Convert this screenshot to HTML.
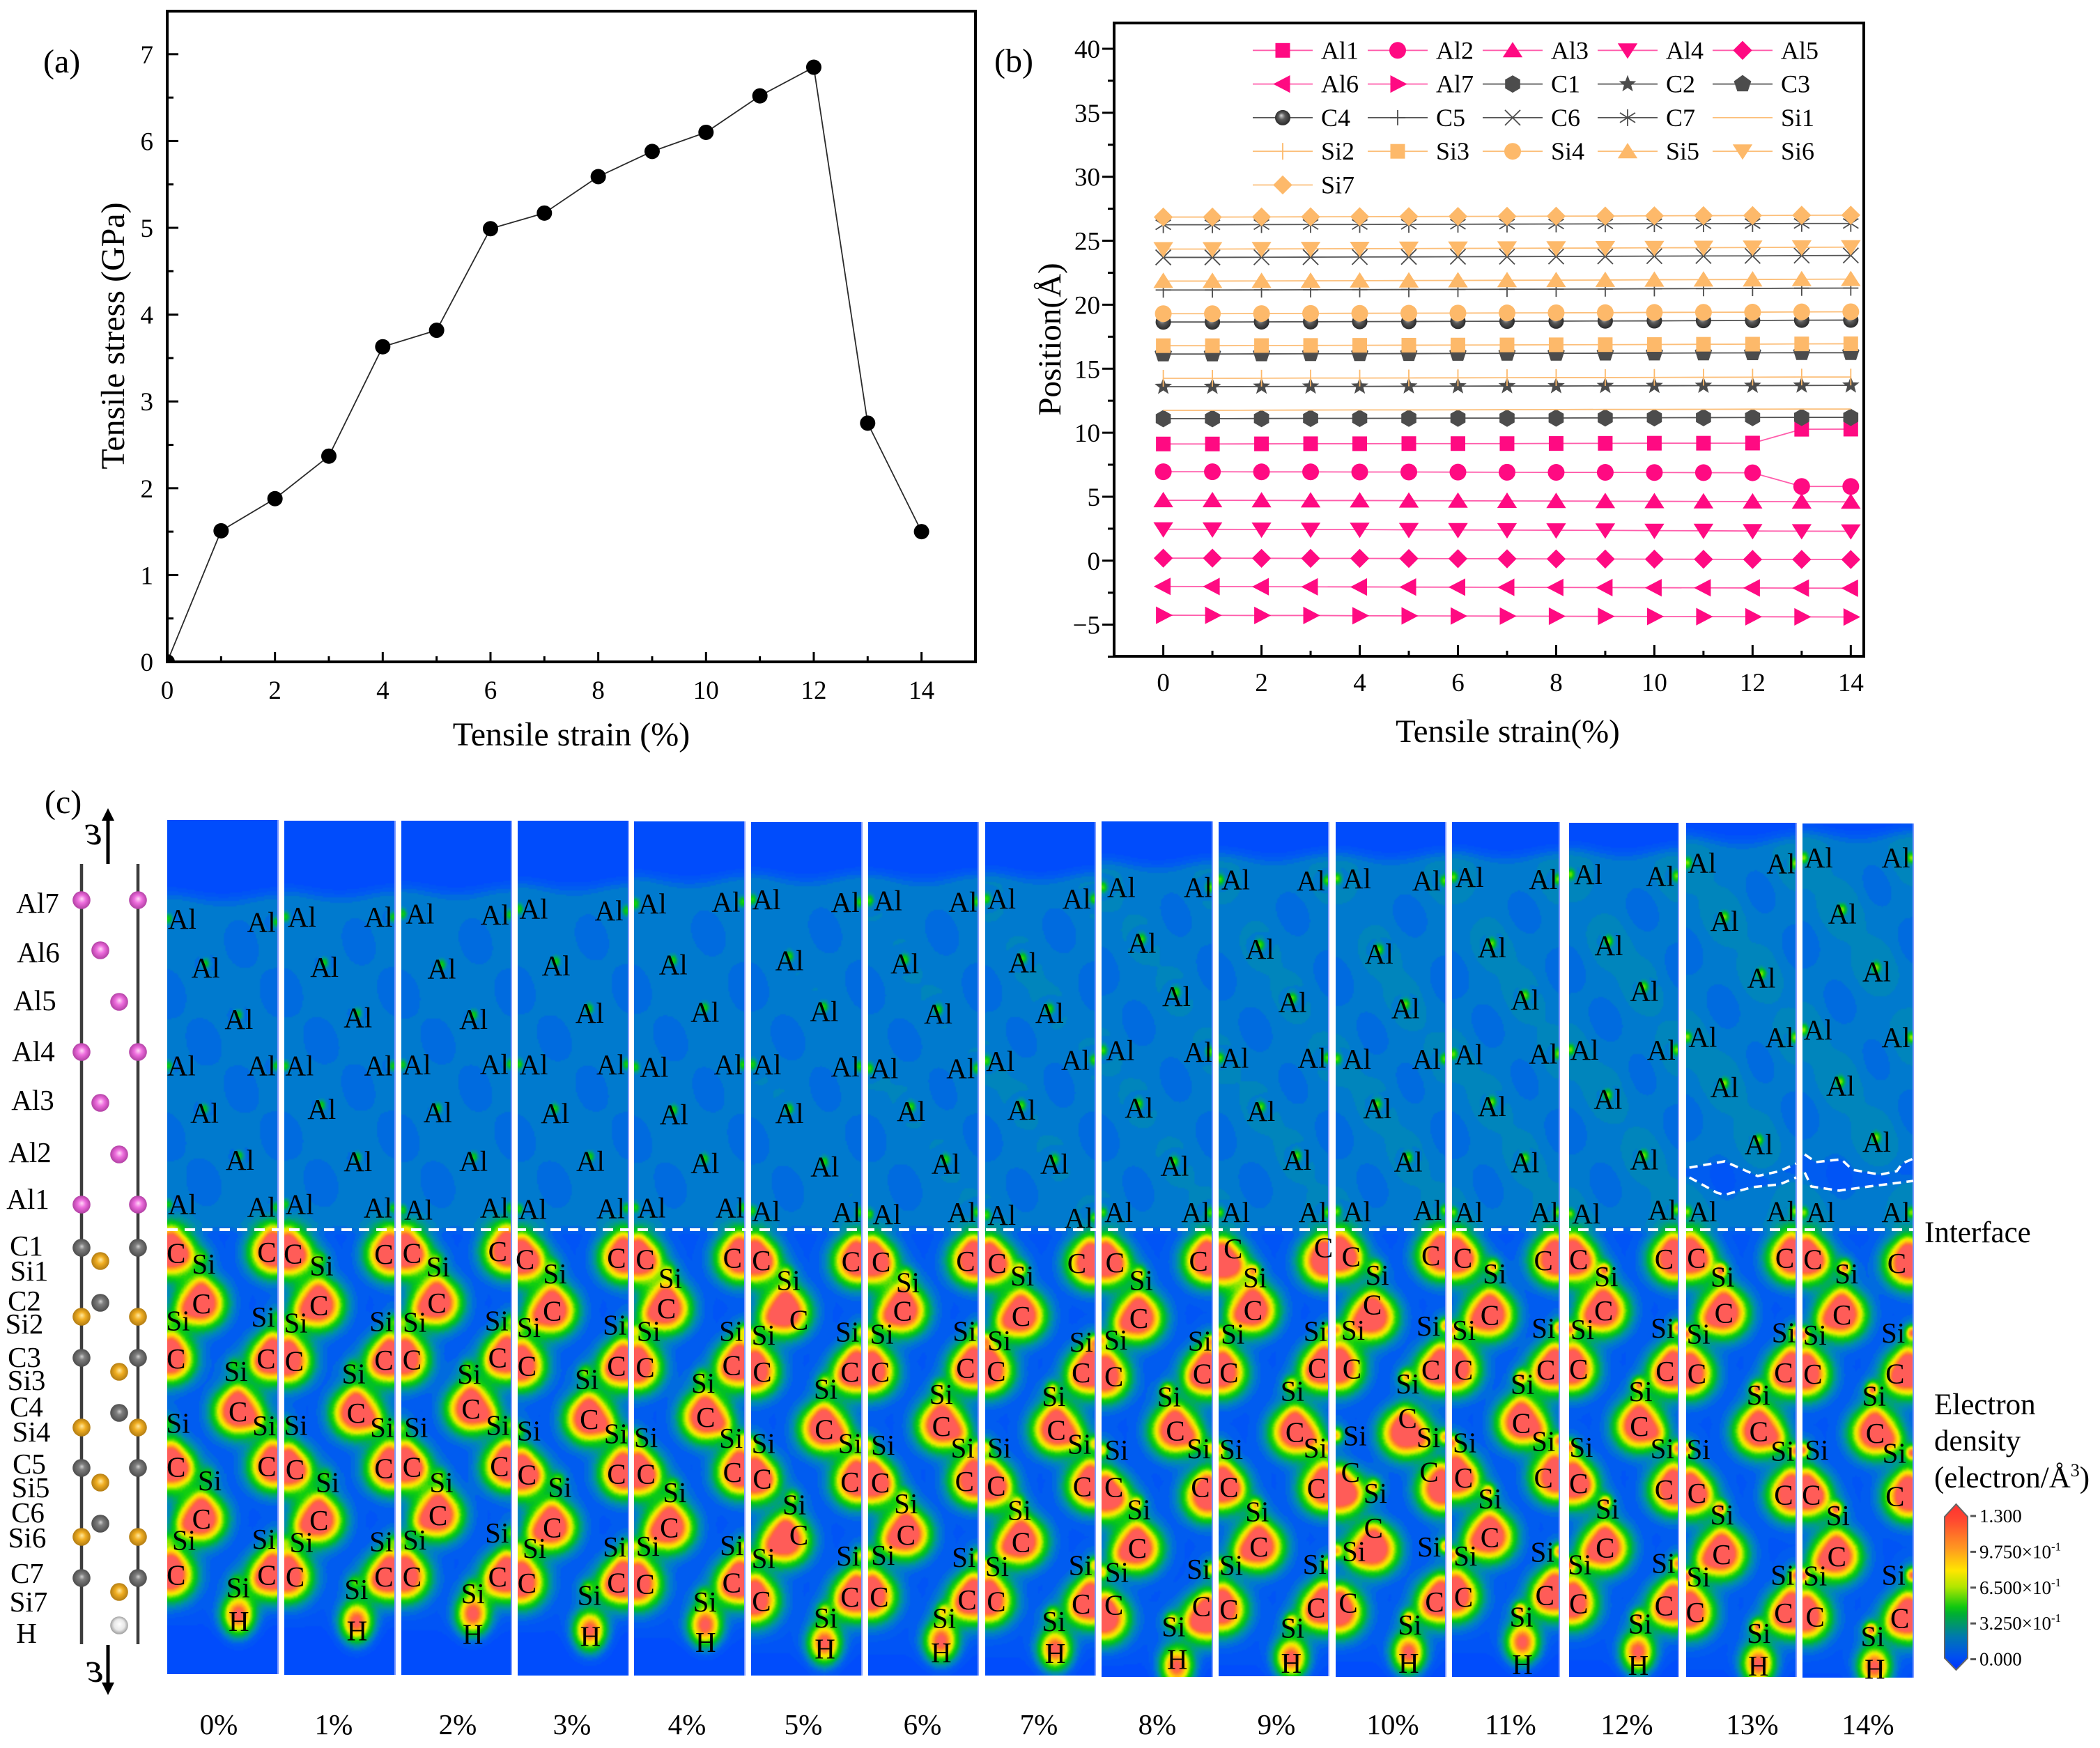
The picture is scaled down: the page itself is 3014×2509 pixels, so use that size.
<!DOCTYPE html>
<html lang="en">
<head>
<meta charset="utf-8">
<title>Tensile stress, atomic positions and electron density</title>
<style>
html,body{margin:0;padding:0;background:#fff}
#page{position:relative;width:3014px;height:2509px;overflow:hidden;background:#fff}
#maps canvas{position:absolute;display:block}
#fig{position:absolute;left:0;top:0}
text{font-family:"Liberation Serif","DejaVu Serif",serif;fill:#000}
</style>
</head>
<body>
<div id="page">
<div id="maps"></div>
<svg id="fig" xmlns="http://www.w3.org/2000/svg" width="3014" height="2509" viewBox="0 0 3014 2509">
<defs>
<radialGradient id="gMag" cx=".5" cy=".5" r=".55" fx=".52" fy=".42"><stop offset="0" stop-color="#ffd8f6"/><stop offset=".4" stop-color="#ee6ede"/><stop offset="1" stop-color="#a8389a"/></radialGradient>
<radialGradient id="gGray" cx=".5" cy=".5" r=".55" fx=".52" fy=".42"><stop offset="0" stop-color="#cfcfcf"/><stop offset=".3" stop-color="#808080"/><stop offset="1" stop-color="#464646"/></radialGradient>
<radialGradient id="gGold" cx=".5" cy=".5" r=".55" fx=".52" fy=".42"><stop offset="0" stop-color="#ffe9a0"/><stop offset=".4" stop-color="#f0ae22"/><stop offset="1" stop-color="#a87410"/></radialGradient>
<radialGradient id="gWhite" cx=".5" cy=".5" r=".55" fx=".52" fy=".42"><stop offset="0" stop-color="#ffffff"/><stop offset=".55" stop-color="#e8e8e8"/><stop offset="1" stop-color="#8c8c8c"/></radialGradient>
<radialGradient id="gBall" cx=".5" cy=".5" r=".55" fx=".4" fy=".35"><stop offset="0" stop-color="#d8d8d8"/><stop offset=".4" stop-color="#5c5c5c"/><stop offset="1" stop-color="#222"/></radialGradient>
<linearGradient id="gBar" gradientUnits="userSpaceOnUse" x1="0" y1="2159" x2="0" y2="2397">
<stop offset="0" stop-color="#ff3030"/><stop offset=".1" stop-color="#ff4a30"/><stop offset=".27" stop-color="#ff9a20"/><stop offset=".4" stop-color="#ffe600"/><stop offset=".5" stop-color="#b0e600"/><stop offset=".62" stop-color="#10c810"/><stop offset=".66" stop-color="#00b030"/><stop offset=".8" stop-color="#0078b0"/><stop offset=".92" stop-color="#0050f0"/><stop offset="1" stop-color="#0030ff"/>
</linearGradient>
<clipPath id="clipA"><rect x="240" y="16" width="1160" height="934"/></clipPath>
</defs>

<g id="panelA">
<text x="62" y="104" font-size="48">(a)</text>
<text x="820" y="1070" font-size="48" text-anchor="middle">Tensile strain (%)</text>
<text transform="translate(178,482) rotate(-90)" font-size="48" text-anchor="middle">Tensile stress (GPa)</text>
</g>
<g id="panelB">
<text x="1427" y="103" font-size="48">(b)</text>
<text x="2164" y="1065" font-size="47" text-anchor="middle">Tensile strain(%)</text>
<text transform="translate(1522,487) rotate(-90)" font-size="47" text-anchor="middle">Position(Å)</text>
</g>
<g id="panelC">
<text x="64" y="1167" font-size="48">(c)</text>
<line x1="155" y1="1240" x2="155" y2="1175" stroke="#000" stroke-width="5"/>
<polygon points="155,1160 146,1178 164,1178" fill="#000"/>
<text transform="translate(146,1212) scale(-1,1)" font-size="60" font-style="italic">ε</text>
<line x1="155" y1="2361" x2="155" y2="2418" stroke="#000" stroke-width="5"/>
<polygon points="155,2433 146,2415 164,2415" fill="#000"/>
<text transform="translate(148,2414) scale(-1,1)" font-size="60" font-style="italic">ε</text>
<line x1="117" y1="1240" x2="117" y2="2360" stroke="#3c3c3c" stroke-width="4.5"/>
<line x1="198" y1="1240" x2="198" y2="2360" stroke="#3c3c3c" stroke-width="4.5"/>
<text x="2762" y="1783" font-size="43">Interface</text>
<text x="2776" y="2030" font-size="43">Electron</text>
<text x="2776" y="2082" font-size="43">density</text>
<text x="2776" y="2135" font-size="43">(electron/Å<tspan font-size="26" dy="-16">3</tspan><tspan dy="16">)</tspan></text>
<polygon points="2807.5,2159 2824,2177 2824,2380 2807.5,2397 2791,2380 2791,2177" fill="url(#gBar)" stroke="#666" stroke-width="2"/>
</g>
</svg>
</div>
<script>
/* ---------- panel (a) data ---------- */
const strainA = [0,1,2,3,4,5,6,7,8,9,10,11,12,13,14];
const stressA = [0,1.51,1.88,2.37,3.63,3.82,4.99,5.17,5.59,5.88,6.10,6.52,6.85,2.75,1.50];
const xTicksA = [0,2,4,6,8,10,12,14];
const yTicksA = [0,1,2,3,4,5,6,7];

/* ---------- panel (b) data ---------- */
const strainB = [0,1,2,3,4,5,6,7,8,9,10,11,12,13,14];
const xTicksB = [0,2,4,6,8,10,12,14];
const yTicksB = [-5,0,5,10,15,20,25,30,35,40];
const posAl1 = [9.12,9.12,9.13,9.14,9.14,9.15,9.15,9.15,9.16,9.17,9.18,9.18,9.19,10.27,10.28];
const posAl2 = [6.95,6.95,6.94,6.94,6.93,6.93,6.92,6.91,6.90,6.90,6.89,6.88,6.87,5.80,5.80];
const posAl3 = [4.72,4.72,4.71,4.70,4.70,4.69,4.68,4.67,4.66,4.65,4.64,4.63,4.62,4.61,4.60];
const posAl4 = [2.46,2.45,2.44,2.43,2.43,2.41,2.40,2.39,2.38,2.37,2.35,2.34,2.32,2.31,2.30];
const posAl5 = [0.20,0.20,0.19,0.18,0.18,0.17,0.16,0.15,0.14,0.13,0.12,0.11,0.10,0.10,0.09];
const posAl6 = [-2.01,-2.02,-2.03,-2.04,-2.05,-2.06,-2.07,-2.08,-2.09,-2.10,-2.11,-2.12,-2.13,-2.14,-2.15];
const posAl7 = [-4.26,-4.27,-4.28,-4.28,-4.30,-4.31,-4.32,-4.33,-4.34,-4.35,-4.36,-4.37,-4.38,-4.39,-4.40];
const posC1 = [11.10,11.10,11.11,11.12,11.12,11.13,11.14,11.14,11.15,11.16,11.17,11.18,11.19,11.20,11.20];
const posC2 = [13.60,13.60,13.61,13.62,13.62,13.63,13.64,13.65,13.65,13.66,13.67,13.68,13.68,13.69,13.70];
const posC3 = [16.15,16.15,16.16,16.17,16.17,16.18,16.19,16.20,16.20,16.21,16.22,16.23,16.24,16.25,16.25];
const posC4 = [18.65,18.65,18.66,18.67,18.68,18.69,18.70,18.71,18.72,18.73,18.74,18.76,18.77,18.79,18.80];
const posC5 = [21.15,21.15,21.16,21.17,21.18,21.19,21.20,21.21,21.22,21.23,21.25,21.26,21.27,21.29,21.30];
const posC6 = [23.70,23.70,23.71,23.72,23.73,23.74,23.75,23.76,23.77,23.78,23.80,23.81,23.82,23.84,23.85];
const posC7 = [26.25,26.25,26.26,26.27,26.27,26.28,26.29,26.30,26.31,26.32,26.33,26.33,26.34,26.35,26.35];
const posSi1 = [11.75,11.75,11.76,11.77,11.78,11.78,11.79,11.80,11.81,11.82,11.82,11.83,11.84,11.85,11.85];
const posSi2 = [14.25,14.25,14.26,14.27,14.27,14.28,14.29,14.30,14.31,14.31,14.32,14.33,14.34,14.35,14.35];
const posSi3 = [16.80,16.80,16.81,16.82,16.83,16.84,16.85,16.86,16.87,16.88,16.89,16.91,16.92,16.94,16.95];
const posSi4 = [19.30,19.30,19.31,19.32,19.33,19.34,19.35,19.36,19.37,19.38,19.40,19.41,19.42,19.44,19.45];
const posSi5 = [21.85,21.85,21.86,21.87,21.88,21.89,21.90,21.91,21.92,21.93,21.95,21.96,21.97,21.99,22.00];
const posSi6 = [24.35,24.35,24.36,24.37,24.38,24.39,24.40,24.41,24.42,24.43,24.45,24.46,24.47,24.49,24.50];
const posSi7 = [26.85,26.85,26.86,26.87,26.88,26.89,26.90,26.91,26.92,26.93,26.95,26.96,26.97,26.99,27.00];
const seriesNames = ['Al1','Al2','Al3','Al4','Al5','Al6','Al7','C1','C2','C3','C4','C5','C6','C7','Si1','Si2','Si3','Si4','Si5','Si6','Si7'];
const seriesValues = [posAl1,posAl2,posAl3,posAl4,posAl5,posAl6,posAl7,posC1,posC2,posC3,posC4,posC5,posC6,posC7,posSi1,posSi2,posSi3,posSi4,posSi5,posSi6,posSi7];
const seriesShapes = ['square','circle','up','down','diamond','left','right','hex','star','pent','ball','plus','cross','aster','bar','vbar','square','circle','up','down','diamond'];

/* ---------- panel (c) data ---------- */
const strainLabels = ['0%','1%','2%','3%','4%','5%','6%','7%','8%','9%','10%','11%','12%','13%','14%'];
/* Al layer order: Al7L Al7R Al6 Al5 Al4L Al4R Al3 Al2 Al1L Al1R - depth along the map */
const alDepth = [
[389,401,572,765,940,940,1117,1293,1459,1470],
[382,382,569,759,940,940,1103,1299,1459,1473],
[370,374,576,765,936,934,1115,1298,1480,1473],
[352,358,565,742,935,935,1118,1297,1478,1475],
[332,325,560,738,945,935,1122,1305,1472,1472],
[316,326,545,735,935,943,1118,1318,1485,1490],
[320,325,557,745,950,950,1110,1308,1497,1490],
[314,314,552,742,922,918,1105,1308,1500,1510],
[270,270,480,680,882,888,1098,1315,1490,1490],
[242,245,502,702,910,910,1110,1293,1490,1490],
[238,245,520,725,915,915,1100,1300,1487,1482],
[232,240,497,692,897,895,1092,1303,1490,1490],
[222,228,488,660,880,880,1065,1292,1495,1480],
[179,181,397,610,832,834,1021,1234,1487,1485],
[160,160,370,587,805,834,1015,1225,1490,1490]];
const alLateral = [
[.135,.85,.347,.647,.128,.85,.337,.657,.135,.85],
[.16,.85,.363,.665,.138,.85,.338,.665,.138,.845],
[.17,.85,.367,.656,.14,.844,.331,.656,.156,.844],
[.145,.825,.347,.65,.145,.84,.337,.657,.135,.84],
[.165,.83,.354,.64,.182,.85,.36,.64,.158,.865],
[.138,.85,.347,.66,.145,.85,.347,.665,.135,.86],
[.18,.86,.333,.637,.145,.84,.39,.705,.17,.85],
[.15,.83,.34,.585,.137,.82,.33,.63,.15,.85],
[.179,.87,.365,.676,.169,.87,.338,.66,.155,.848],
[.155,.838,.375,.672,.145,.848,.385,.713,.155,.855],
[.193,.824,.395,.635,.193,.824,.378,.659,.193,.834],
[.163,.85,.372,.68,.156,.85,.372,.68,.156,.86],
[.175,.832,.363,.688,.14,.843,.356,.688,.158,.85],
[.145,.86,.349,.684,.151,.849,.349,.66,.151,.859],
[.147,.843,.36,.67,.14,.843,.343,.67,.163,.843]];
/* Substrate order: C1L C1R Si1 C2 Si2L Si2R C3L C3R Si3 C4 Si4L Si4R C5L C5R Si5 C6 Si6L Si6R C7L C7R Si7 H */
const subElements = ['C','C','Si','C','Si','Si','C','C','Si','C','Si','Si','C','C','Si','C','Si','Si','C','C','Si','H'];
const subDepth = [
[113,110,150,283,340,328,468,468,510,646,685,693,832,830,878,1006,1078,1074,1195,1195,1237,1350],
[116,117,156,289,348,343,476,473,518,651,691,699,840,836,883,1011,1085,1082,1201,1201,1242,1382],
[113,108,159,281,345,340,472,464,519,637,699,691,832,830,883,994,1076,1053,1201,1201,1257,1393],
[135,130,183,308,363,355,493,493,537,672,710,720,858,855,900,1035,1105,1100,1222,1220,1262,1400],
[135,130,198,300,375,375,497,490,550,665,732,735,855,850,917,1035,1098,1095,1225,1220,1285,1420],
[138,142,205,338,388,378,512,512,570,705,752,752,872,882,958,1060,1138,1130,1282,1268,1338,1443],
[143,140,212,308,385,375,513,500,587,695,758,768,885,880,955,1060,1128,1135,1268,1278,1340,1456],
[147,148,190,325,407,412,510,515,594,708,767,755,895,897,977,1085,1165,1162,1283,1292,1350,1458],
[145,140,205,332,405,408,528,518,595,710,775,770,900,900,975,1105,1185,1175,1295,1300,1368,1478],
[98,95,195,305,385,375,515,500,577,715,772,768,900,903,982,1100,1162,1158,1310,1305,1372,1490],
[125,122,187,287,372,358,502,505,552,668,727,733,850,848,920,1037,1115,1100,1288,1285,1362,1490],
[130,138,182,322,372,365,505,505,553,685,750,745,868,868,938,1068,1130,1117,1268,1262,1335,1495],
[135,133,192,307,370,365,503,510,578,695,765,770,887,908,972,1103,1160,1155,1290,1297,1358,1498],
[130,130,193,315,385,380,518,515,590,712,772,778,920,925,992,1125,1200,1195,1320,1322,1390,1500],
[135,148,183,320,388,382,520,518,593,718,775,785,925,930,995,1132,1197,1195,1335,1340,1400,1510]];
const subLateral = [
[24,267,98,92,29,257,24,265,184,190,29,260,24,267,114,92,45,259,24,267,190,192],
[24,267,100,93,31,260,27,267,186,193,31,262,29,267,116,93,46,260,29,267,193,195],
[29,260,99,96,36,257,29,260,183,188,40,260,29,265,108,99,36,258,29,260,193,193],
[20,265,100,93,30,260,25,265,185,192,30,263,25,265,113,93,45,260,25,265,192,195],
[30,264,97,87,39,260,30,262,185,192,32,260,32,264,109,95,37,262,30,262,190,192],
[28,268,100,128,33,258,30,265,200,196,33,265,30,265,116,128,33,260,28,265,200,198],
[35,263,107,93,37,260,33,263,197,198,40,255,33,260,102,102,40,258,30,267,205,197],
[32,247,100,97,38,259,30,259,185,192,38,254,30,262,92,97,32,257,30,259,185,189],
[36,260,106,100,38,263,33,270,181,198,40,260,33,265,100,96,41,260,33,268,193,203],
[39,283,98,93,38,261,28,266,199,206,34,261,28,264,104,109,34,259,28,263,199,196],
[42,257,112,99,47,250,44,257,194,194,52,250,40,252,107,102,49,252,34,267,200,197],
[30,253,118,105,33,253,32,260,195,192,35,253,32,253,105,105,37,250,32,257,192,195],
[26,258,101,94,36,254,26,261,194,191,33,253,26,258,104,98,29,256,26,258,193,188],
[28,266,98,102,33,263,29,263,195,196,33,260,29,263,97,96,33,260,25,263,196,195],
[28,253,118,106,33,243,28,248,192,195,38,246,24,248,95,92,34,244,34,261,188,194]];
/* shift of the charge blob from its printed label, per strain: layer -> [lateral, depth] */
const blobShift = {
 5:{3:[-35,-25],15:[-35,20]},
 8:{12:[0,30],13:[0,30],18:[0,45],19:[0,40]},
 9:{0:[0,50],1:[0,45]},
 10:{3:[0,43],9:[-7,52],12:[0,70],13:[0,60],15:[0,73],18:[0,32]}
};
const hBlobShift = [-15,-23,-60,-10,-50,-10,-30,-5,30,-10,-25,-65,-38,0,0];
/* fracture outlines at 13% and 14% : lateral fraction, depth (map px below the 1170 top) */
const crackUpper = {13:[[0.03,506],[0.35,497],[0.65,518],[0.85,511],[1,500]],14:[[0.02,487],[0.12,498],[0.35,494],[0.45,509],[0.7,516],[0.85,511],[0.9,500],[1,493]]};
const crackLower = {13:[[0.03,520],[0.28,542],[0.35,545],[0.6,534],[0.85,530],[1,520]],14:[[0.02,513],[0.08,533],[0.33,539],[0.6,533],[1,525]]};
/* colour scale */
const cmapLevels = [0,0.08,0.145,0.2,0.28,0.36,0.45,0.56,0.66,0.76,0.9,1.03,1.12];
const cmapColors = [[0,72,255],[0,92,240],[0,122,205],[0,142,175],[0,165,110],[0,190,40],[20,210,10],[130,228,0],[225,238,0],[255,222,0],[255,165,30],[255,110,50],[255,92,88]];
const colorbarValues = ['1.300','9.750','6.500','3.250','0.000'];
const colorbarExp = [false,true,true,true,false];
/* chain diagram */
const chainLayers = ['Al7','Al6','Al5','Al4','Al3','Al2','Al1','C1','Si1','C2','Si2','C3','Si3','C4','Si4','C5','Si5','C6','Si6','C7','Si7','H'];
const chainColumn = [0,1,2,0,1,2,0,0,1,1,0,0,2,2,0,0,1,1,0,0,2,2];
const chainHeight = [1292,1364,1438,1510,1583,1657,1729,1791,1810,1870,1890,1949,1969,2028,2049,2107,2128,2187,2206,2265,2285,2333];
const chainLabelX = [54,55,50,48,47,43,40,38,42,35,35,35,38,38,45,42,44,40,39,39,41,38];
const chainLabelY = [1297,1368,1437,1510,1580,1655,1722,1789,1825,1868,1901,1949,1982,2020,2056,2102,2136,2172,2208,2259,2300,2345];

/* ---------- helpers ---------- */
const NS = 'http://www.w3.org/2000/svg';
function mk(tag, attrs, parent){
  const e = document.createElementNS(NS, tag);
  for (const k in attrs) e.setAttribute(k, attrs[k]);
  parent.appendChild(e);
  return e;
}
const gA = document.getElementById('panelA');
const gB = document.getElementById('panelB');
const gC = document.getElementById('panelC');

/* ---------- panel (a) ---------- */
const ax = v => 240 + v * 77.33;
const ay = v => 950 - v * 124.6;
(function(){
  const frame = mk('rect',{x:240,y:16,width:1160,height:934,fill:'none',stroke:'#000','stroke-width':4},gA);
  
  
  for (let i=0;i<=15;i++){
    const major = i%2===0;
    const t = mk('line',{x1:ax(i),x2:ax(i),y1:950,y2:950-(major?14:8),stroke:'#000','stroke-width':3},gA);
    
    
  }
  for (let i=0;i<=14;i++){
    const major = i%2===0;
    const t = mk('line',{x1:240,x2:240+(major?16:9),y1:ay(i/2),y2:ay(i/2),stroke:'#000','stroke-width':3},gA);
    
    
  }
  xTicksA.forEach(v=>{
    const t = mk('text',{x:ax(v),y:1003,'font-size':37,'text-anchor':'middle'},gA);
    t.textContent = v;
    
    
  });
  yTicksA.forEach(v=>{
    const t = mk('text',{x:220,y:ay(v)+13,'font-size':37,'text-anchor':'end'},gA);
    t.textContent = v;
    
    
  });
  const clip = mk('g',{'clip-path':'url(#clipA)'},gA);
  
  
  const line = mk('polyline',{points:strainA.map((s,i)=>ax(s)+','+ay(stressA[i])).join(' '),fill:'none',stroke:'#2a2a2a','stroke-width':1.8},clip);
  
  
  strainA.forEach((s,i)=>{
    const c = mk('circle',{cx:ax(s),cy:ay(stressA[i]),r:11,fill:'#000'},clip);
    
    
  });
})();

/* ---------- panel (b) ---------- */
const bx = v => 1669.6 + v * 70.48;
const by = v => 70 + (40 - v) * 18.37;
function seriesColor(name){
  if (name.indexOf('Al')===0) return {fill:'#ff0a82',line:'#ff5cab'};
  if (name.indexOf('Si')===0) return {fill:'#fdb96a',line:'#fcbf7a'};
  return {fill:'#4c4c4c',line:'#555'};
}
function poly(pts,x,y,s){ return pts.map(p=>(x+p[0]*s).toFixed(1)+','+(y+p[1]*s).toFixed(1)).join(' '); }
function regular(n,rot,inner){
  const out=[];
  const count = inner ? n*2 : n;
  for(let i=0;i<count;i++){
    const a = rot + i*2*Math.PI/count;
    const r = inner && i%2 ? inner : 1;
    out.push([Math.cos(a)*r,Math.sin(a)*r]);
  }
  return out;
}
function drawMarker(shape,x,y,col,parent){
  const s = 10.5, f = col.fill;
  const g = mk('g',{},parent);
  
  
  switch(shape){
    case 'square': mk('rect',{x:x-s,y:y-s,width:2*s,height:2*s,fill:f},g); break;
    case 'circle': mk('circle',{cx:x,cy:y,r:12,fill:f},g); break;
    case 'ball': mk('circle',{cx:x,cy:y,r:11,fill:'url(#gBall)'},g); break;
    case 'up': mk('polygon',{points:poly([[0,-1.15],[1.35,.95],[-1.35,.95]],x,y,s),fill:f},g); break;
    case 'down': mk('polygon',{points:poly([[0,1.15],[1.35,-.95],[-1.35,-.95]],x,y,s),fill:f},g); break;
    case 'left': mk('polygon',{points:poly([[-1.3,0],[1,-1.2],[1,1.2]],x,y,s),fill:f},g); break;
    case 'right': mk('polygon',{points:poly([[1.3,0],[-1,-1.2],[-1,1.2]],x,y,s),fill:f},g); break;
    case 'diamond': mk('polygon',{points:poly([[0,-1.3],[1.3,0],[0,1.3],[-1.3,0]],x,y,s),fill:f},g); break;
    case 'hex': mk('polygon',{points:poly(regular(6,Math.PI/2),x,y,s),fill:f},g); g.lastChild.setAttribute('points',poly(regular(6,Math.PI/2),x,y,12.5)); break;
    case 'pent': mk('polygon',{points:poly(regular(5,-Math.PI/2),x,y,13),fill:f},g); break;
    case 'star': mk('polygon',{points:poly(regular(5,-Math.PI/2,.42),x,y,13),fill:f},g); break;
    case 'plus':
      mk('line',{x1:x-11,x2:x+11,y1:y,y2:y,stroke:f,'stroke-width':1.8},g);
      mk('line',{x1:x,x2:x,y1:y-11,y2:y+11,stroke:f,'stroke-width':1.8},g); break;
    case 'cross':
      mk('line',{x1:x-11,x2:x+11,y1:y-11,y2:y+11,stroke:f,'stroke-width':1.8},g);
      mk('line',{x1:x+11,x2:x-11,y1:y-11,y2:y+11,stroke:f,'stroke-width':1.8},g); break;
    case 'aster':
      mk('line',{x1:x,x2:x,y1:y-12,y2:y+12,stroke:f,'stroke-width':1.8},g);
      mk('line',{x1:x-11,x2:x+11,y1:y-7,y2:y+7,stroke:f,'stroke-width':1.8},g);
      mk('line',{x1:x+11,x2:x-11,y1:y-7,y2:y+7,stroke:f,'stroke-width':1.8},g); break;
    case 'vbar':
      mk('line',{x1:x,x2:x,y1:y-12,y2:y+12,stroke:f,'stroke-width':1.8},g); break;
    default: break;
  }
}
(function(){
  const frame = mk('rect',{x:1599,y:33,width:1076,height:909,fill:'none',stroke:'#000','stroke-width':4},gB);
  
  
  for (let i=0;i<=14;i++){
    const major = i%2===0;
    const t = mk('line',{x1:bx(i),x2:bx(i),y1:942,y2:942-(major?16:8),stroke:'#000','stroke-width':3},gB);
    
    
  }
  for (let i=-3;i<=16;i++){
    const v = i*2.5, major = i%2===0;
    if (v>41) continue;
    const t = mk('line',{x1:1599,x2:1599-(major?17:9),y1:by(v),y2:by(v),stroke:'#000','stroke-width':3},gB);
    
    
  }
  xTicksB.forEach(v=>{
    const t = mk('text',{x:bx(v),y:992,'font-size':37,'text-anchor':'middle'},gB);
    t.textContent = v;
    
    
  });
  yTicksB.forEach(v=>{
    const t = mk('text',{x:1579,y:by(v)+13,'font-size':37,'text-anchor':'end'},gB);
    t.textContent = v < 0 ? '\u2212' + Math.abs(v) : v;
    
    
  });
  seriesNames.forEach((name,k)=>{
    const col = seriesColor(name);
    const g = mk('g',{},gB);
    
    
    const l = mk('polyline',{points:strainB.map((s,i)=>bx(s)+','+by(seriesValues[k][i])).join(' '),fill:'none',stroke:col.line,'stroke-width':1.8},g);
    
    
    strainB.forEach((s,i)=>drawMarker(seriesShapes[k],bx(s),by(seriesValues[k][i]),col,g));
  });
  seriesNames.forEach((name,k)=>{
    const col = seriesColor(name);
    const cx = 1841 + (k%5)*165, cy = 72.3 + Math.floor(k/5)*48.3;
    const g = mk('g',{},gB);
    
    
    const l = mk('line',{x1:cx-43,x2:cx+43,y1:cy,y2:cy,stroke:col.line,'stroke-width':1.8},g);
    
    
    drawMarker(seriesShapes[k],cx,cy,col,g);
    const t = mk('text',{x:cx+55,y:cy+12,'font-size':36},g);
    t.textContent = name;
    
    
  });
})();

/* ---------- panel (c): chain ---------- */
(function(){
  const colX = [[117,198],[144],[171]];
  chainLayers.forEach((name,i)=>{
    const fill = name[0]==='A' ? 'url(#gMag)' : name[0]==='S' ? 'url(#gGold)' : name[0]==='C' ? 'url(#gGray)' : 'url(#gWhite)';
    colX[chainColumn[i]].forEach(x=>{
      const c = mk('circle',{cx:x,cy:chainHeight[i],r:12.8,fill:fill},gC);
      
      
    });
    const t = mk('text',{x:chainLabelX[i],y:chainLabelY[i]+13,'font-size':41,'text-anchor':'middle'},gC);
    t.textContent = name;
    
    
  });
})();

/* ---------- panel (c): maps ---------- */
const mapBoxes = [[240,399,1177,2403],[408,567,1178,2404],[576,734,1178,2404],[743,902,1178,2405],[910,1069,1179,2405],[1078,1237,1180,2405],[1246,1404,1180,2405],[1414,1572,1180,2405],[1581,1740,1179,2407],[1749,1907,1180,2406],[1917,2075,1180,2407],[2084,2238,1180,2407],[2252,2409,1181,2407],[2420,2578,1181,2407],[2587,2746,1182,2408]];
const percentX = [314,479,657,821,986,1153,1324,1491,1661,1832,1999,2168,2335,2515,2681];
const alY = v => 1170 + v/2.613;
const subY = v => 1750 + v/2.34;
const INTERFACE = 1765;
const smooth = (a,b,x)=>{ const t=Math.min(1,Math.max(0,(x-a)/(b-a))); return t*t*(3-2*t); };
function interp(pts,f){
  if (f<=pts[0][0]) return pts[0][1];
  for (let i=1;i<pts.length;i++){
    if (f<=pts[i][0]){ const a=pts[i-1],b=pts[i]; return a[1]+(b[1]-a[1])*(f-a[0])/(b[0]-a[0]); }
  }
  return pts[pts.length-1][1];
}
function colorAt(v){
  if (v<=0) return cmapColors[0];
  const n=cmapLevels.length;
  if (v>=cmapLevels[n-1]) return cmapColors[n-1];
  for (let i=1;i<n;i++){
    if (v<cmapLevels[i]){
      const t=(v-cmapLevels[i-1])/(cmapLevels[i]-cmapLevels[i-1]);
      const a=cmapColors[i-1],b=cmapColors[i];
      return [a[0]+(b[0]-a[0])*t,a[1]+(b[1]-a[1])*t,a[2]+(b[2]-a[2])*t];
    }
  }
  return cmapColors[n-1];
}
function renderMap(i){
  const box = mapBoxes[i];
  const L=box[0], R=box[1], T=box[2], B=box[3];
  const pw=R-L, ph=B-T;
  const W=Math.round(pw/2), H=Math.round(ph/2);
  const F=new Float32Array(W*H);
  const al=alDepth[i], alf=alLateral[i], sd=subDepth[i], sl=subLateral[i];
  const y7=alY((al[0]+al[1])/2);
  const ySi7=subY(sd[20]);
  const up=crackUpper[i], lo=crackLower[i];
  for (let r=0;r<H;r++){
    const y=T+(r+.5)*2;
    for (let c=0;c<W;c++){
      const fx=(c+.5)/W;
      const edge=y7-48-4*Math.cos(2*Math.PI*fx);
      let v=.14*smooth(edge-6,edge+30,y);
      const t=smooth(INTERFACE-9,INTERFACE+10,y);
      v=v*(1-t)+.055*t;
      v*=1-.9*smooth(ySi7+28,ySi7+80,y);
      if (up){
        const a=1170+interp(up,fx), b=1170+interp(lo,fx);
        if (y>a && y<b) v=.085;
      }
      F[r*W+c]=v;
    }
  }
  function add(cx,cy,sx,sy,a){
    const px=(cx-L)/2, py=(cy-T)/2, ssx=sx/2, ssy=sy/2;
    const x0=Math.max(0,Math.floor(px-3.3*ssx)), x1=Math.min(W-1,Math.ceil(px+3.3*ssx));
    const y0=Math.max(0,Math.floor(py-3.3*ssy)), y1=Math.min(H-1,Math.ceil(py+3.3*ssy));
    for (let r=y0;r<=y1;r++){
      const dy=(r+.5-py)/ssy;
      for (let c=x0;c<=x1;c++){
        const dx=(c+.5-px)/ssx;
        F[r*W+c]+=a*Math.exp(-.5*(dx*dx+dy*dy));
      }
    }
  }
  /* aluminium lattice */
  const y6=alY(al[2]),y5=alY(al[3]),y4=alY((al[4]+al[5])/2),y3=alY(al[6]),y2=alY(al[7]),y1=alY((al[8]+al[9])/2);
  const pockets=[[.67,(y7+y6)/2],[.33,(y5+y4)/2],[.67,(y4+y3)/2],[.33,(y2+y1)/2],[0,(y6+y5)/2],[1,(y6+y5)/2],[0,(y3+y2)/2],[1,(y3+y2)/2]];
  pockets.forEach(p=>add(L+p[0]*pw,p[1],19,24,-.04));
  const gain=1+i*.03;
  al.forEach((d,k)=>{
    const y=alY(d);
    const isEdge=(k===0||k===1||k===4||k===5||k===8||k===9);
    let x=L+alf[k]*pw;
    if (isEdge) x=(k%2===0)? L+.012*pw : R-.012*pw;
    const sy=y-(isEdge?0:6);
    add(x,sy,25,28,.018+.003*i);
    add(x,sy,10,10,-.09);
    add(x,sy,4.5,5.5,.33*gain);
  });
  /* substrate */
  const S=pw/297;
  const shift=blobShift[i]||{};
  sd.forEach((d,k)=>{
    const el=subElements[k];
    let x=L+sl[k]*S, y=subY(d);
    const sh=shift[k];
    if (sh){ x+=sh[0]*S; y+=sh[1]/2.34; }
    if (el==='C'){
      const isLeft = sl[k]<70, isRight = sl[k]>230;
      if (isLeft) x=L+8*S;
      if (isRight) x=R-10*S;
      add(x,y,21,21,1.5);
      add(x+(isLeft?2:isRight?-2:0),y-24,9,12,.33);
      if (!isLeft && !isRight){
        if (k===9) add(x+26,y+12,10,11,.36);
        else add(x-24,y+11,10,11,.3);
      } else if (isLeft && (k===0||k===12)) add(x+20,y+3,9,11,.28);
      else if (isRight && (k===7||k===19)) add(x-20,y+8,9,11,.28);
    } else if (el==='Si'){
      const gainSi=Math.min(.85,.22+.045*i);
      if (sl[k]<70){
        add(L+1,y,6,7,gainSi); add(L+1,y,15,18,.12);
      } else if (sl[k]>230){
        add(R-1,y,6,7,gainSi); add(R-1,y,15,18,.12);
      } else {
        add(x-2,y-9,6,7,gainSi); add(x-2,y-6,16,17,.12);
      }
    } else {
      const hy=y+hBlobShift[i]/2.34;
      add(x,hy,15,18,.98);
      add(x,hy-14,14,14,.2);
    }
  });
  /* colourise with banded contours */
  const cv=document.createElement('canvas');
  cv.width=W; cv.height=H;
  cv.style.left=L+'px'; cv.style.top=T+'px'; cv.style.width=pw+'px'; cv.style.height=ph+'px';
  
  
  const ctx=cv.getContext('2d');
  const img=ctx.createImageData(W,H);
  for (let n=0;n<W*H;n++){
    const q=Math.floor(F[n]/.032)*.032+.016;
    const col=colorAt(q);
    img.data[4*n]=col[0]; img.data[4*n+1]=col[1]; img.data[4*n+2]=col[2]; img.data[4*n+3]=255;
  }
  ctx.putImageData(img,0,0);
  document.getElementById('maps').appendChild(cv);

  /* overlay: panel edge, labels */
  const g=mk('g',{},gC);
  
  
  const eL=mk('line',{x1:R,x2:R,y1:T,y2:B,stroke:'#7f9cff','stroke-width':2},g);
  
  
  al.forEach((d,k)=>{
    const t=mk('text',{x:L+alf[k]*pw,y:alY(d)+14,'font-size':41,'text-anchor':'middle'},g);
    t.textContent='Al';
    
    
  });
  sd.forEach((d,k)=>{
    const t=mk('text',{x:L+sl[k]*S,y:subY(d)+14,'font-size':41,'text-anchor':'middle'},g);
    t.textContent=subElements[k];
    
    
  });
  const pct=mk('text',{x:percentX[i],y:2489,'font-size':41,'text-anchor':'middle'},gC);
  pct.textContent=strainLabels[i];
  
  
  if (up){
    [up,lo].forEach(pts=>{
      const c=mk('polyline',{points:pts.map(p=>(L+p[0]*pw).toFixed(1)+','+(1170+p[1]).toFixed(1)).join(' '),fill:'none',stroke:'#fff','stroke-width':3.5,'stroke-dasharray':'12 8'},g);
      
      
    });
  }
}
strainLabels.forEach((_,i)=>renderMap(i));

(function(){
  const d=mk('line',{x1:240,x2:2746,y1:INTERFACE,y2:INTERFACE,stroke:'#fff','stroke-width':4,'stroke-dasharray':'15 10'},gC);
  
  
  colorbarValues.forEach((val,i)=>{
    const y=2176+i*51.4;
    const tk=mk('line',{x1:2828,x2:2836,y1:y,y2:y,stroke:'#555','stroke-width':3},gC);
    
    
    const t=mk('text',{x:2841,y:y+9,'font-size':27,fill:'#222'},gC);
    t.textContent=val+(colorbarExp[i]?'×10':'');
    
    
    if (colorbarExp[i]){
      const s=mk('tspan',{'font-size':17,dy:-11},t);
      s.textContent='-1';
    }
  });
})();
</script>
</body>
</html>
